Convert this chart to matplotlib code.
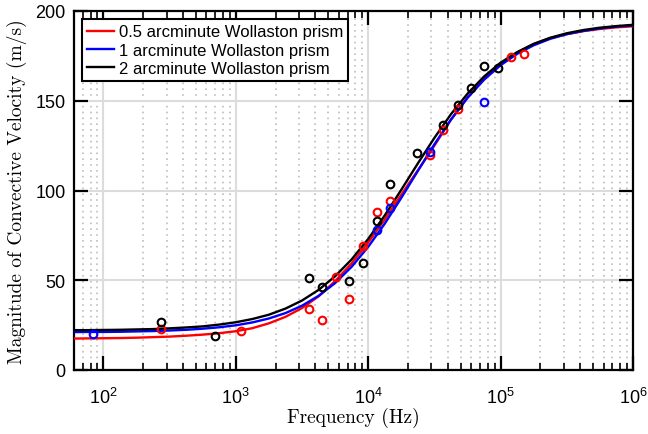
import numpy as np
import matplotlib
matplotlib.use("Agg")
import matplotlib.pyplot as plt
from matplotlib.ticker import LogLocator, FixedLocator, FuncFormatter, NullFormatter

plt.rcParams['font.family'] = ['Liberation Sans', 'DejaVu Sans']
plt.rcParams['mathtext.fontset'] = 'custom'
plt.rcParams['mathtext.rm'] = 'Liberation Sans'
plt.rcParams['mathtext.it'] = 'Liberation Sans:italic'

# ---- data ----
labels = ['0.5 arcminute Wollaston prism', '1 arcminute Wollaston prism', '2 arcminute Wollaston prism']

# measured points (frequency in Hz, velocity in m/s)
red_f = [272, 1094, 3570, 4500, 5700, 7200, 9080, 11560, 14590, 29400, 36500, 47300, 119400, 151400]
red_v = [22.8, 22.0, 33.9, 27.6, 52.0, 39.4, 69.0, 88.0, 94.4, 119.8, 133.5, 145.2, 174.2, 176.3]
blue_f = [84, 11560, 14590, 29400, 75200]
blue_v = [20.0, 77.8, 90.4, 121.7, 149.3]
black_f = [272, 697, 3590, 4500, 7200, 9080, 11560, 14590, 23400, 36500, 47300, 59600, 75200, 94900]
black_v = [26.7, 19.0, 51.0, 46.0, 49.8, 59.8, 83.0, 103.7, 121.0, 136.3, 147.4, 157.0, 169.6, 168.5]

# fitted curves, read at these frequencies
fit_f = [56, 75, 100, 133, 178, 237, 316, 422, 562, 750, 1000, 1334, 1778, 2371, 3162, 4217,
         5623, 7499, 10000, 13335, 17783, 23714, 31623, 42170, 56234, 74989, 100000, 133352,
         177828, 237137, 316228, 421697, 562341, 749894, 1000000]
red_fit = [17.5, 17.6, 17.7, 17.8, 18.0, 18.3, 18.6, 19.1, 19.7, 20.5, 21.6, 23.3, 26.0, 29.6,
           34.5, 41.0, 49.5, 59.4, 71.0, 83.8, 97.7, 111.2, 125.0, 139.4, 151.8, 162.2, 170.4,
           176.8, 181.6, 184.9, 187.1, 188.8, 190.0, 190.9, 191.5]
blue_fit = [21.1, 21.2, 21.2, 21.3, 21.5, 21.7, 22.0, 22.4, 23.0, 23.8, 24.9, 26.5, 28.7, 31.7,
            35.8, 41.3, 48.4, 57.5, 68.6, 81.5, 95.9, 110.9, 125.7, 139.5, 151.6, 161.7, 169.8,
            176.1, 180.9, 184.5, 187.1, 188.9, 190.3, 191.3, 191.9]
black_fit = [22.2, 22.2, 22.3, 22.4, 22.6, 22.8, 23.2, 23.7, 24.3, 25.3, 26.6, 28.4, 30.8, 34.2,
             38.7, 44.6, 52.2, 61.6, 73.0, 86.1, 100.4, 115.1, 129.3, 142.5, 153.9, 163.5, 171.2,
             177.1, 181.7, 185.1, 187.6, 189.4, 190.7, 191.6, 192.3]

x_major = [1e2, 1e3, 1e4, 1e5, 1e6]
y_ticks = [0, 50, 100, 150, 200]

fig = plt.figure(figsize=(6.48, 4.35), dpi=100)
ax = fig.add_axes([74/648, 64/435, (633-74)/648, (423-64)/435])

ax.plot(fit_f, red_fit, color='red', lw=1.7, label=labels[0], zorder=3)
ax.plot(fit_f, blue_fit, color='blue', lw=1.7, label=labels[1], zorder=3)
ax.plot(fit_f, black_fit, color='black', lw=1.7, label=labels[2], zorder=3)
ax.plot(red_f, red_v, 'o', mfc='none', mec='red', ms=5.5, mew=1.5, zorder=4)
ax.plot(blue_f, blue_v, 'o', mfc='none', mec='blue', ms=5.5, mew=1.5, zorder=4)
ax.plot(black_f, black_v, 'o', mfc='none', mec='black', ms=5.5, mew=1.5, zorder=4)

ax.set_xscale('log')
ax.set_xlim(60, 1e6)
ax.set_ylim(0, 200)
ax.set_yticks(y_ticks)
ax.xaxis.set_major_locator(FixedLocator(x_major))
ax.xaxis.set_minor_locator(LogLocator(base=10, subs=np.arange(2, 10), numticks=20))
ax.xaxis.set_minor_formatter(NullFormatter())
ax.xaxis.set_major_formatter(FuncFormatter(lambda v, p: r'$\mathregular{10^{%d}}$' % round(np.log10(v))))

ax.grid(True, which='major', color='#dcdcdc', lw=1.5, zorder=0)
ax.grid(True, which='minor', axis='x', color='#bdbdbd', lw=1.2, ls=(0, (1, 2.5)), zorder=0)
ax.set_axisbelow(True)

for s in ax.spines.values():
    s.set_linewidth(1.6)
ax.tick_params(which='major', direction='in', length=10, width=1.6, top=True, right=True, labelsize=13)
ax.tick_params(axis='x', which='major', pad=12)
ax.tick_params(axis='y', which='major', pad=6)
ax.tick_params(which='minor', direction='in', length=5, width=1.2, top=True, right=True)

ax.set_xlabel('Frequency (Hz)', fontfamily='cmr10', fontsize=14, labelpad=0)
ax.set_ylabel('Magnitude of Convective Velocity (m/s)', fontfamily='cmr10', fontsize=14, labelpad=6)

leg = ax.legend(loc='upper left', fontsize=12, handlelength=1.6, handletextpad=0.3,
                borderpad=0.3, labelspacing=0.2, fancybox=False, edgecolor='black',
                framealpha=1, borderaxespad=0.5)
leg.get_frame().set_linewidth(1.5)

fig.savefig('out.png', dpi=100)
